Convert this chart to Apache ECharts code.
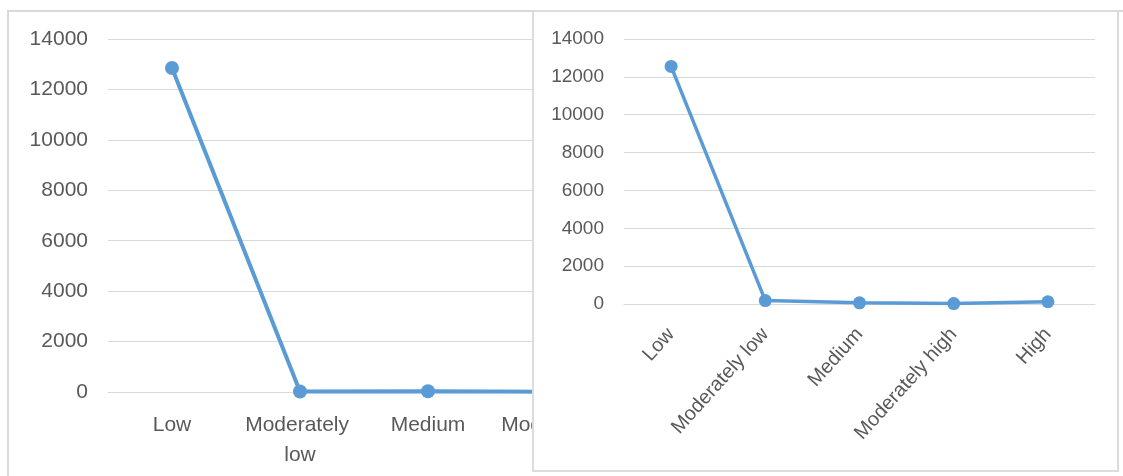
<!DOCTYPE html>
<html>
<head>
<meta charset="utf-8">
<script src="https://cdn.jsdelivr.net/npm/echarts@6/dist/echarts.min.js"></script>
<style>
  html, body { margin: 0; padding: 0; background: #fff; width: 1123px; height: 476px; overflow: hidden; }
  #leftChart { position: absolute; left: 7px; top: 10px; width: 1200px; height: 520px;
               border: 2px solid #d9d9d9; box-sizing: border-box; background: #fff; }
  #rightChart { position: absolute; left: 532px; top: 10px; width: 587px; height: 462px;
                border: 2px solid #dcdcdc; box-sizing: border-box; background: #fff; }
</style>
</head>
<body>
<div id="leftChart"></div>
<div id="rightChart"></div>
<script>
var categories = ['Low', 'Moderately low', 'Medium', 'Moderately high', 'High'];
var leftValues = [12850, 20, 30, 10, 100];
var rightValues = [12550, 180, 60, 20, 120];
var yMin = 0, yMax = 14000, yStep = 2000;

var lineColor = '#5b9bd5';
var textColor = '#595959';
var gridColor = '#d9d9d9';

function plain(v) { return String(v); }

var leftChart = echarts.init(document.getElementById('leftChart'));
leftChart.setOption({
    animation: false,
    grid: { left: 99, top: 27, width: 640, height: 353 },
    xAxis: {
        type: 'category',
        data: categories,
        axisLine: { lineStyle: { color: gridColor } },
        axisTick: { show: false },
        axisLabel: {
            interval: 0, color: textColor, fontSize: 21, fontFamily: 'Liberation Sans',
            margin: 18, width: 122, overflow: 'break', lineHeight: 30
        }
    },
    yAxis: {
        type: 'value',
        min: yMin, max: yMax, interval: yStep,
        axisLine: { show: false },
        axisTick: { show: false },
        splitLine: { lineStyle: { color: gridColor, width: 1 } },
        axisLabel: { color: textColor, fontSize: 21, fontFamily: 'Liberation Sans', margin: 20, formatter: plain }
    },
    series: [{
        type: 'line',
        data: leftValues,
        symbol: 'circle',
        symbolSize: 14,
        lineStyle: { color: lineColor, width: 4 },
        itemStyle: { color: lineColor }
    }]
});

var rightChart = echarts.init(document.getElementById('rightChart'));
rightChart.setOption({
    animation: false,
    grid: { left: 90, top: 27, width: 471, height: 265 },
    xAxis: {
        type: 'category',
        data: categories,
        axisLine: { lineStyle: { color: gridColor } },
        axisTick: { show: false },
        axisLabel: {
            interval: 0, rotate: 48, color: textColor, fontSize: 20,
            fontFamily: 'Liberation Sans', margin: 27
        }
    },
    yAxis: {
        type: 'value',
        min: yMin, max: yMax, interval: yStep,
        axisLine: { show: false },
        axisTick: { show: false },
        splitLine: { lineStyle: { color: gridColor, width: 1 } },
        axisLabel: { color: textColor, fontSize: 19, fontFamily: 'Liberation Sans', margin: 20, formatter: plain }
    },
    series: [{
        type: 'line',
        data: rightValues,
        symbol: 'circle',
        symbolSize: 13,
        lineStyle: { color: lineColor, width: 3.5 },
        itemStyle: { color: lineColor }
    }]
});
</script>
</body>
</html>
